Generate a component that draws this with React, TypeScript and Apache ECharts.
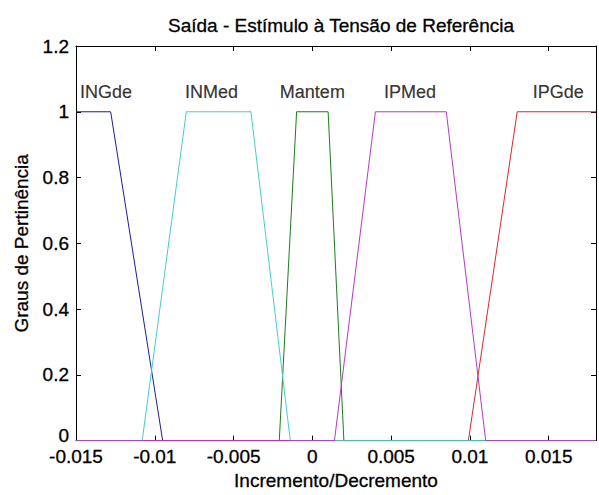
import React, { useEffect, useRef } from "react";
import * as echarts from "echarts";

const X_MIN = -0.015;
const X_MAX = 0.018;
const Y_MIN = 0;
const Y_MAX = 1.2;

const mfNames = ["INGde", "INMed", "Mantem", "IPMed", "IPGde"];
const mfColors = ["#1c1c96", "#46cccc", "#1f7a1f", "#b23cc0", "#d42a2a"];

const ingdeX = [-0.015, -0.0128, -0.0095, 0.018];
const ingdeY = [1, 1, 0, 0];
const inmedX = [-0.015, -0.0108, -0.008, -0.0039, -0.0014, 0.018];
const inmedY = [0, 0, 1, 1, 0, 0];
const mantemX = [-0.015, -0.0021, -0.001, 0.001, 0.002, 0.018];
const mantemY = [0, 0, 1, 1, 0, 0];
const ipmedX = [-0.015, 0.0014, 0.004, 0.0085, 0.011, 0.018];
const ipmedY = [0, 0, 1, 1, 0, 0];
const ipgdeX = [-0.015, 0.0099, 0.013, 0.018];
const ipgdeY = [0, 0, 1, 1];

const mfLabelX = [-0.0131, -0.0064, 0.0, 0.0062, 0.0156];
const mfLabelY = 1.06;

// draw order chosen so the baseline colours overlap as in the reference
const drawOrder = [0, 2, 4, 1, 3];

const mfXs = [ingdeX, inmedX, mantemX, ipmedX, ipgdeX];
const mfYs = [ingdeY, inmedY, mantemY, ipmedY, ipgdeY];

const FONT = "Liberation Sans, Arial, sans-serif";

function fmtX(v: number): string {
  if (Math.abs(v - X_MAX) < 1e-9) return "";
  return String(Number(v.toFixed(4)));
}

function fmtY(v: number): string {
  const s = String(Number(v.toFixed(2)));
  return v === 0 ? "{z|" + s + "}" : s;
}

export default function App() {
  const ref = useRef<HTMLDivElement>(null);
  useEffect(() => {
    document.body.style.margin = "0";
    const chart = echarts.init(ref.current!, null, { renderer: "svg" });
    const axisLine = { show: true, onZero: false, lineStyle: { color: "#000", width: 1 } };
    const axisTick = { show: true, inside: true, length: 5, lineStyle: { color: "#000" } };
    const txt = { fontFamily: FONT, fontSize: 19, color: "#000", textBorderColor: "#000", textBorderWidth: 0.3 };
    const lineSeries = drawOrder.map((i) => ({
      type: "line",
      name: mfNames[i],
      xAxisIndex: 0,
      yAxisIndex: 0,
      data: mfXs[i].map((x, k) => [x, mfYs[i][k]]),
      showSymbol: false,
      symbol: "none",
      lineStyle: { color: mfColors[i], width: 1 },
      itemStyle: { color: mfColors[i] },
      z: 3,
    }));
    chart.setOption({
      animation: false,
      backgroundColor: "#fff",
      title: {
        text: "Saída - Estímulo à Tensão de Referência",
        left: 336,
        top: 11,
        textAlign: "center",
        textStyle: { ...txt, fontWeight: "normal" },
      },
      grid: { left: 76, top: 46, width: 522, height: 395, show: false },
      xAxis: [
        {
          type: "value",
          min: X_MIN,
          max: X_MAX,
          interval: 0.005,
          position: "bottom",
          axisLine,
          axisTick,
          axisLabel: { formatter: fmtX, ...txt, margin: 6 },
          splitLine: { show: false },
          name: "Incremento/Decremento",
          nameLocation: "middle",
          nameGap: 30,
          nameTextStyle: txt,
        },
        {
          type: "value",
          min: X_MIN,
          max: X_MAX,
          interval: 0.005,
          position: "top",
          axisLine,
          axisTick,
          axisLabel: { show: false },
          splitLine: { show: false },
        },
      ],
      yAxis: [
        {
          type: "value",
          min: Y_MIN,
          max: Y_MAX,
          interval: 0.2,
          position: "left",
          axisLine,
          axisTick,
          axisLabel: {
            formatter: fmtY,
            ...txt,
            margin: 7,
            rich: { z: { ...txt, padding: [0, 0, 10, 0] } },
          },
          splitLine: { show: false },
          name: "Graus de Pertinência",
          nameLocation: "middle",
          nameGap: 44,
          nameTextStyle: txt,
        },
        {
          type: "value",
          min: Y_MIN,
          max: Y_MAX,
          interval: 0.2,
          position: "right",
          axisLine,
          axisTick,
          axisLabel: { show: false },
          splitLine: { show: false },
        },
      ],
      series: [
        ...lineSeries,
        {
          type: "scatter",
          xAxisIndex: 0,
          yAxisIndex: 0,
          symbolSize: 1,
          itemStyle: { color: "rgba(0,0,0,0)" },
          data: mfNames.map((n, i) => ({ value: [mfLabelX[i], mfLabelY], name: n })),
          label: {
            show: true,
            position: "inside",
            formatter: (p: any) => p.name,
            ...txt,
            fontSize: 18,
            textBorderWidth: 0.2,
          },
          z: 5,
        },
      ],
    });
    return () => chart.dispose();
  }, []);
  return <div ref={ref} style={{ width: 599, height: 495 }} />;
}
